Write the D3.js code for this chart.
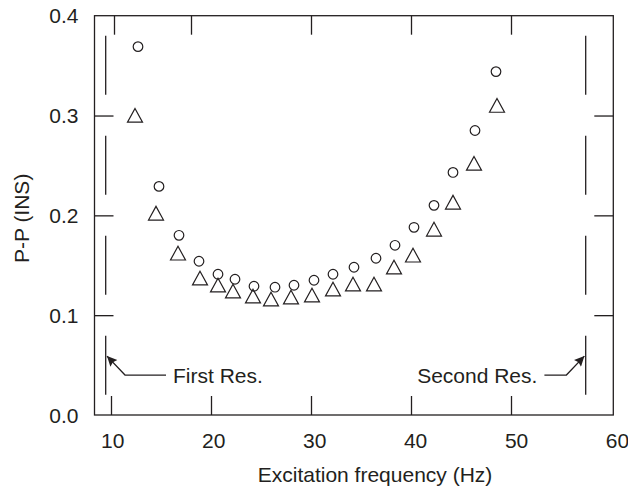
<!DOCTYPE html>
<html>
<head>
<meta charset="utf-8">
<script src="https://cdn.jsdelivr.net/npm/d3@7"></script>
<style>
  body { margin: 0; background: #fff; }
  svg text { font-family: "Liberation Sans", Arial, sans-serif; fill: #231f20; }
</style>
</head>
<body>
<div id="chart"></div>
<script>
// peak-to-peak response, circles
const circleFreq = [12.7, 14.8, 16.8, 18.8, 20.7, 22.4, 24.3, 26.4, 28.3, 30.3,
  32.2, 34.3, 36.5, 38.4, 40.3, 42.3, 44.2, 46.4, 48.5];
const circlePP = [0.369, 0.229, 0.180, 0.154, 0.141, 0.136, 0.129, 0.128, 0.130, 0.135,
  0.141, 0.148, 0.157, 0.170, 0.188, 0.210, 0.243, 0.285, 0.344];

// peak-to-peak response, triangles
const triangleFreq = [12.4, 14.5, 16.7, 18.9, 20.7, 22.2, 24.2, 26.0, 28.0, 30.1,
  32.2, 34.2, 36.3, 38.3, 40.2, 42.3, 44.2, 46.3, 48.6];
const trianglePP = [0.300, 0.202, 0.162, 0.137, 0.130, 0.124, 0.119, 0.116, 0.118, 0.120,
  0.126, 0.131, 0.131, 0.148, 0.160, 0.186, 0.213, 0.252, 0.310];

// resonance markers
const resFreq = [9.47, 57.47];
const resLabels = ["First Res.", "Second Res."];

const xTicks = [10, 20, 30, 40, 50];
const xTopTicks = [10.3, 18.0, 30, 40, 50]; // top frame ticks as printed
const xTickLabels = [10, 20, 30, 40, 50, 60];
const yTicks = [0.1, 0.2, 0.3];
const yTickLabels = [0.0, 0.1, 0.2, 0.3, 0.4];

const ink = "#231f20";

class ResponseChart {
  constructor(_config) {
    this.config = {
      parentElement: _config.parentElement,
      containerWidth: _config.containerWidth || 628,
      containerHeight: _config.containerHeight || 490,
      margin: _config.margin || { top: 15.7, right: 14.7, bottom: 75, left: 94.5 },
    };
    this.initVis();
  }

  initVis() {
    const vis = this;
    const m = vis.config.margin;

    vis.width = vis.config.containerWidth - m.left - m.right;
    vis.height = vis.config.containerHeight - m.top - m.bottom;

    vis.svg = d3
      .select(vis.config.parentElement)
      .append("svg")
      .attr("width", vis.config.containerWidth)
      .attr("height", vis.config.containerHeight)
      .append("g")
      .attr("transform", `translate(${m.left},${m.top})`);

    vis.x = d3.scaleLinear().domain([8.35, 60.23]).range([0, vis.width]);
    vis.y = d3.scaleLinear().domain([0, 0.4]).range([vis.height, 0]);
    // the printed tick numbers sit on a slightly wider scale than the ticks
    vis.xLabel = d3.scaleLinear().domain([10, 60]).range([vis.x(10) + 1.8, vis.x(60) + 6.5]);

    vis.updateVis();
  }

  updateVis() {
    const vis = this;
    const tick = 19;

    // inward ticks on all four sides
    const axes = [
      [d3.axisBottom(vis.x).tickValues(xTicks), `translate(0,${vis.height})`],
      [d3.axisTop(vis.x).tickValues(xTopTicks), "translate(0,0)"],
      [d3.axisLeft(vis.y).tickValues(yTicks), "translate(0,0)"],
      [d3.axisRight(vis.y).tickValues(yTicks), `translate(${vis.width},0)`],
    ];
    axes.forEach(([axis, tr]) => {
      const g = vis.svg
        .append("g")
        .attr("transform", tr)
        .call(axis.tickSize(-tick).tickFormat(""));
      g.select(".domain").remove();
      g.selectAll("line").attr("stroke", ink).attr("stroke-width", 1.3);
    });

    vis.svg
      .append("rect")
      .attr("width", vis.width)
      .attr("height", vis.height)
      .attr("fill", "none")
      .attr("stroke", ink)
      .attr("stroke-width", 1.3);

    // tick labels
    vis.svg
      .selectAll("text.xtick")
      .data(xTickLabels)
      .join("text")
      .attr("class", "xtick")
      .attr("x", (d) => vis.xLabel(d))
      .attr("y", vis.height + 33)
      .attr("text-anchor", "middle")
      .style("font-size", "21px")
      .text((d) => d);

    vis.svg
      .selectAll("text.ytick")
      .data(yTickLabels)
      .join("text")
      .attr("class", "ytick")
      .attr("x", -16)
      .attr("y", (d) => vis.y(d))
      .attr("dy", "0.36em")
      .attr("text-anchor", "end")
      .style("font-size", "21px")
      .text((d) => d3.format(".1f")(d));

    // axis titles
    vis.svg
      .append("text")
      .attr("x", 375 - vis.config.margin.left)
      .attr("y", vis.height + 67)
      .attr("text-anchor", "middle")
      .style("font-size", "21px")
      .text("Excitation frequency (Hz)");

    vis.svg
      .append("text")
      .attr("transform", `translate(${29 - vis.config.margin.left},${vis.height / 2 + 3}) rotate(-90)`)
      .attr("text-anchor", "middle")
      .style("font-size", "21px")
      .text("P-P (INS)");

    // dashed resonance lines
    vis.svg
      .selectAll("line.res")
      .data(resFreq)
      .join("line")
      .attr("class", "res")
      .attr("x1", (d) => vis.x(d))
      .attr("x2", (d) => vis.x(d))
      .attr("y1", vis.y(0.38))
      .attr("y2", vis.y(0.02))
      .attr("stroke", ink)
      .attr("stroke-width", 1.3)
      .attr("stroke-dasharray", "59,41");

    // arrows with labels
    const defs = vis.svg.append("defs");
    defs
      .append("marker")
      .attr("id", "head")
      .attr("viewBox", "0 -5 10 10")
      .attr("refX", 10)
      .attr("refY", 0)
      .attr("markerWidth", 12)
      .attr("markerHeight", 10)
      .attr("markerUnits", "userSpaceOnUse")
      .attr("orient", "auto")
      .append("path")
      .attr("d", "M0,-4.8L10,0L0,4.8L1.5,0Z")
      .attr("fill", ink);

    const tipY = vis.y(0.059);
    const elbowY = vis.y(0.040);
    const arrows = resFreq.map((f, i) => {
      const s = i === 0 ? 1 : -1;
      const tipX = vis.x(f) + s * 1.3;
      const elbowX = tipX + s * 18;
      const endX = elbowX + s * (i === 0 ? 41 : 22);
      return { pts: [[endX, elbowY], [elbowX, elbowY], [tipX, tipY]], s, endX, label: resLabels[i] };
    });

    vis.svg
      .selectAll("path.arrow")
      .data(arrows)
      .join("path")
      .attr("class", "arrow")
      .attr("d", (d) => d3.line()(d.pts))
      .attr("fill", "none")
      .attr("stroke", ink)
      .attr("stroke-width", 1.3)
      .attr("marker-end", "url(#head)");

    vis.svg
      .selectAll("text.reslabel")
      .data(arrows)
      .join("text")
      .attr("class", "reslabel")
      .attr("x", (d) => d.endX + d.s * 7)
      .attr("y", elbowY + 7.5)
      .attr("text-anchor", (d) => (d.s > 0 ? "start" : "end"))
      .style("font-size", "21px")
      .text((d) => d.label);

    // data marks
    vis.svg
      .selectAll("circle.pt")
      .data(d3.zip(circleFreq, circlePP))
      .join("circle")
      .attr("class", "pt")
      .attr("cx", (d) => vis.x(d[0]))
      .attr("cy", (d) => vis.y(d[1]))
      .attr("r", 4.8)
      .attr("fill", "none")
      .attr("stroke", ink)
      .attr("stroke-width", 1.2);

    vis.svg
      .selectAll("path.tri")
      .data(d3.zip(triangleFreq, trianglePP))
      .join("path")
      .attr("class", "tri")
      .attr("transform", (d) => `translate(${vis.x(d[0])},${vis.y(d[1])})`)
      .attr("d", "M0,-7L7.5,6.7L-7.5,6.7Z")
      .attr("fill", "none")
      .attr("stroke", ink)
      .attr("stroke-width", 1.2);
  }
}

new ResponseChart({ parentElement: "#chart" });
</script>
</body>
</html>
